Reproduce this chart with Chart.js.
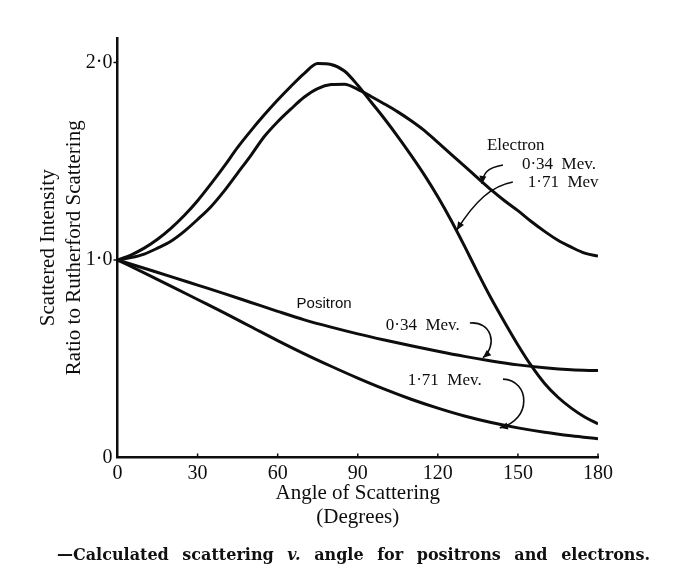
<!DOCTYPE html>
<html>
<head>
<meta charset="utf-8">
<script src="https://cdn.jsdelivr.net/npm/chart.js@4.4.0/dist/chart.umd.min.js"></script>
<style>
  html, body { margin: 0; padding: 0; background: #fff; }
  #wrap { position: relative; width: 675px; height: 577px; }
  #caption {
    position: absolute; left: 57px; top: 545px; white-space: nowrap;
    font-family: "DejaVu Serif", serif; font-weight: bold; font-size: 16px;
    word-spacing: 8px; color: #111;
  }
</style>
</head>
<body>
<div id="wrap">
  <canvas id="chart" width="675" height="577"></canvas>
  <div id="caption">—Calculated scattering <i>v.</i> angle for positrons and electrons.</div>
</div>
<script>
// Scattering angle (degrees) at which each curve is sampled
const electronAngles = [0, 5, 10, 15, 20, 25, 30, 35, 40, 45, 50, 55, 60, 65, 70, 75, 80, 85, 90,
  95, 100, 105, 110, 115, 120, 125, 130, 135, 140, 145, 150, 155, 160, 165, 170, 175, 180];
const positronAngles = [0, 10, 20, 30, 40, 50, 60, 70, 80, 90, 100, 110, 120, 130, 140, 150, 160, 170, 180];

// Scattered intensity as a ratio to Rutherford scattering
const electron034 = [1.00, 1.012, 1.03, 1.06, 1.095, 1.145, 1.205, 1.27, 1.35, 1.44, 1.53, 1.625, 1.70,
  1.765, 1.825, 1.868, 1.888, 1.89, 1.864, 1.828, 1.79, 1.75, 1.705, 1.655, 1.595, 1.535, 1.475, 1.415,
  1.355, 1.30, 1.25, 1.195, 1.145, 1.10, 1.065, 1.035, 1.02];
const electron171 = [1.00, 1.025, 1.06, 1.105, 1.16, 1.225, 1.30, 1.385, 1.475, 1.57, 1.655, 1.735, 1.81,
  1.88, 1.945, 1.995, 1.99, 1.957, 1.885, 1.80, 1.715, 1.625, 1.53, 1.43, 1.32, 1.20, 1.07, 0.935,
  0.805, 0.685, 0.57, 0.465, 0.375, 0.305, 0.25, 0.205, 0.17];
const positron034 = [1.00, 0.958, 0.916, 0.873, 0.83, 0.785, 0.74, 0.697, 0.66, 0.626, 0.595, 0.566,
  0.538, 0.512, 0.489, 0.469, 0.454, 0.444, 0.44];
const positron171 = [1.00, 0.935, 0.868, 0.80, 0.732, 0.662, 0.592, 0.525, 0.462, 0.402, 0.346, 0.295,
  0.25, 0.21, 0.177, 0.15, 0.128, 0.11, 0.095];

// Axis ticks
const xTicks = [0, 30, 60, 90, 120, 150, 180];
const yTicks = [0, 1, 2];
const yTickLabels = ['0', '1·0', '2·0'];

// Curve labels, placed in data units (angle, ratio) at their left edge
const notes = [
  { text: 'Electron',   x: 138.4, y: 1.582, font: '17px "Liberation Serif"' },
  { text: '0·34  Mev.', x: 151.5, y: 1.481, font: '17px "Liberation Serif"' },
  { text: '1·71  Mev',  x: 153.7, y: 1.390, font: '17px "Liberation Serif"' },
  { text: 'Positron',   x: 67.1,  y: 0.777, font: '15px "Liberation Sans"' },
  { text: '0·34  Mev.', x: 100.5, y: 0.666, font: '17px "Liberation Serif"' },
  { text: '1·71  Mev.', x: 108.7, y: 0.392, font: '17px "Liberation Serif"' }
];

// Curved pointers from the labels to their curves: start, control points, tip (data units)
const pointers = [
  [[144.4, 1.481], [138.4, 1.466], [137.0, 1.440], [136.5, 1.385]],
  [[148.1, 1.395], [140.2, 1.375], [134.0, 1.300], [127.1, 1.152]],
  [[132.0, 0.681], [140.2, 0.690], [142.5, 0.570], [136.9, 0.505]],
  [[144.4, 0.397], [154.5, 0.392], [155.5, 0.190], [143.2, 0.150]]
];

const ink = '#0d0d0d';

const decorations = {
  id: 'decorations',
  afterDatasetsDraw(chart) {
    const { ctx, scales: { x, y }, chartArea } = chart;
    ctx.save();
    ctx.strokeStyle = ink;
    ctx.fillStyle = ink;

    // short tick marks on the inside of the x axis, outside the y axis
    ctx.lineWidth = 1.5;
    xTicks.slice(1).forEach(v => {
      const px = x.getPixelForValue(v);
      ctx.beginPath();
      ctx.moveTo(px, chartArea.bottom);
      ctx.lineTo(px, chartArea.bottom - 4);
      ctx.stroke();
    });
    yTicks.slice(1).forEach(v => {
      const py = y.getPixelForValue(v);
      ctx.beginPath();
      ctx.moveTo(chartArea.left, py);
      ctx.lineTo(chartArea.left - 4, py);
      ctx.stroke();
    });

    // labels
    ctx.textBaseline = 'middle';
    ctx.textAlign = 'left';
    notes.forEach(n => {
      ctx.font = n.font;
      ctx.fillText(n.text, x.getPixelForValue(n.x), y.getPixelForValue(n.y));
    });

    // curved pointers with arrow heads
    ctx.lineWidth = 1.6;
    pointers.forEach(p => {
      const pts = p.map(([a, b]) => [x.getPixelForValue(a), y.getPixelForValue(b)]);
      ctx.beginPath();
      ctx.moveTo(pts[0][0], pts[0][1]);
      ctx.bezierCurveTo(pts[1][0], pts[1][1], pts[2][0], pts[2][1], pts[3][0], pts[3][1]);
      ctx.stroke();
      const [tx, ty] = pts[3];
      const ang = Math.atan2(ty - pts[2][1], tx - pts[2][0]);
      const L = 8, W = 3.5;
      ctx.beginPath();
      ctx.moveTo(tx, ty);
      ctx.lineTo(tx - L * Math.cos(ang) + W * Math.sin(ang), ty - L * Math.sin(ang) - W * Math.cos(ang));
      ctx.lineTo(tx - L * Math.cos(ang) - W * Math.sin(ang), ty - L * Math.sin(ang) + W * Math.cos(ang));
      ctx.closePath();
      ctx.fill();
    });
    ctx.restore();
  }
};

const toPoints = (xs, ys) => xs.map((a, i) => ({ x: a, y: ys[i] }));
const curve = (label, xs, ys) => ({
  label, data: toPoints(xs, ys),
  borderColor: ink, borderWidth: 3, pointRadius: 0,
  cubicInterpolationMode: 'monotone', fill: false
});

new Chart(document.getElementById('chart'), {
  type: 'line',
  data: {
    datasets: [
      curve('Electron 0·34 Mev', electronAngles, electron034),
      curve('Electron 1·71 Mev', electronAngles, electron171),
      curve('Positron 0·34 Mev', positronAngles, positron034),
      curve('Positron 1·71 Mev', positronAngles, positron171)
    ]
  },
  options: {
    responsive: false,
    devicePixelRatio: 1,
    animation: false,
    layout: { padding: { top: 38, right: 77, left: 0, bottom: 0 } },
    plugins: { legend: { display: false }, tooltip: { enabled: false } },
    scales: {
      x: {
        type: 'linear', min: 0, max: 180,
        afterFit(s) { s.height = 119.5; },
        afterBuildTicks(s) { s.ticks = xTicks.map(v => ({ value: v })); },
        grid: { display: false, drawTicks: false },
        border: { display: true, color: ink, width: 2.5 },
        ticks: {
          color: ink, padding: 4,
          font: { family: '"Liberation Serif"', size: 20 },
          maxRotation: 0, autoSkip: false
        },
        title: {
          display: true, text: ['Angle of Scattering', '(Degrees)'], color: ink,
          font: { family: '"Liberation Serif"', size: 21, lineHeight: 1.15 },
          padding: { top: 0, bottom: 47 }
        }
      },
      y: {
        type: 'linear', min: 0, max: 2.124,
        afterFit(s) { s.width = 117.5; },
        afterBuildTicks(s) { s.ticks = yTicks.map(v => ({ value: v })); },
        grid: { display: false, drawTicks: false },
        border: { display: true, color: ink, width: 2.5 },
        ticks: {
          color: ink, padding: 5,
          font: { family: '"Liberation Serif"', size: 20 },
          callback: (v) => yTickLabels[yTicks.indexOf(v)]
        },
        title: {
          display: true, text: ['Scattered Intensity', 'Ratio to Rutherford Scattering'], color: ink,
          font: { family: '"Liberation Serif"', size: 21, lineHeight: 1.25 },
          padding: { top: 35, bottom: 0 }
        }
      }
    }
  },
  plugins: [decorations]
});
</script>
</body>
</html>
